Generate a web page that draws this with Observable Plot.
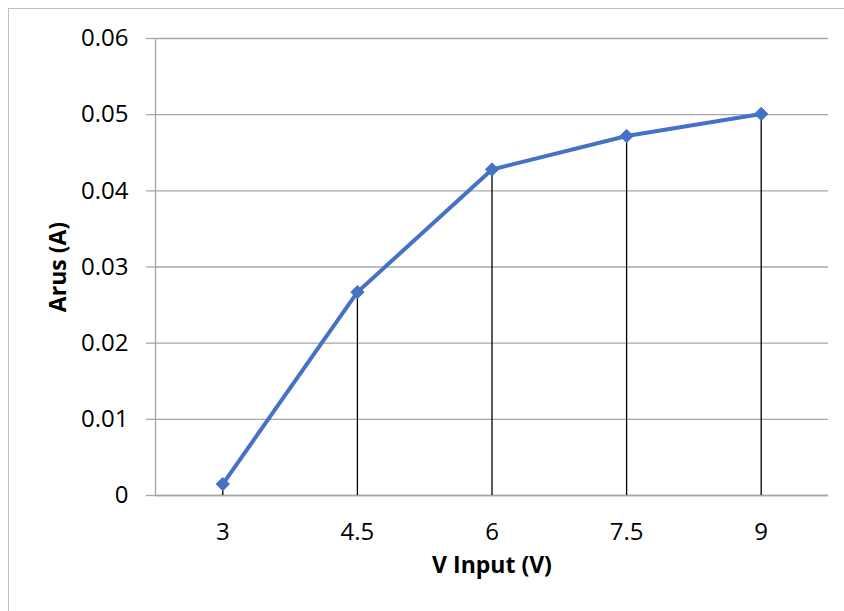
<!DOCTYPE html>
<html>
<head>
<meta charset="utf-8">
<script src="https://cdn.jsdelivr.net/npm/d3@7"></script>
<script src="https://cdn.jsdelivr.net/npm/@observablehq/plot@0.6"></script>
<style>
  html, body { margin: 0; padding: 0; background: #fff; }
  #wrap { position: relative; width: 844px; height: 611px; overflow: hidden; }
  #border { position: absolute; left: 8px; top: 8px; width: 900px; height: 700px; border: 1px solid #bfbfbf; box-sizing: border-box; }
  #chart { position: absolute; left: 0; top: 0; }
</style>
</head>
<body>
<div id="wrap"><div id="border"></div><div id="chart"></div></div>
<script>
const vInput = [3, 4.5, 6, 7.5, 9];
const arus = [0.0015, 0.0267, 0.0428, 0.0472, 0.0501];
const yTicks = [0, 0.01, 0.02, 0.03, 0.04, 0.05, 0.06];
const xTitle = "V Input (V)";
const yTitle = "Arus (A)";

const data = vInput.map((v, i) => ({v, a: arus[i]}));
const step = vInput[1] - vInput[0];
const xDomain = [vInput[0] - step / 2, vInput[vInput.length - 1] + step / 2];

const font = "'Open Sans', sans-serif";
const grid = "#a6a6a6";
const fmtY = d => d === 0 ? "0" : String(+d.toFixed(2));
const fmtX = d => String(d);

const chart = Plot.plot({
  width: 844,
  height: 611,
  marginLeft: 155,
  marginRight: 16,
  marginTop: 38,
  marginBottom: 116,
  style: {fontFamily: font, fontSize: "24px", color: "#000", background: "transparent"},
  x: {domain: xDomain},
  y: {domain: [0, 0.06]},
  marks: [
    Plot.gridY(yTicks, {stroke: grid, strokeOpacity: 1, strokeWidth: 1.3}),
    Plot.ruleX([xDomain[0]], {stroke: grid, strokeWidth: 1.3}),
    Plot.ruleY([0], {stroke: grid, strokeWidth: 1.3}),
    Plot.axisY(yTicks, {tickSize: 9, tickPadding: 18, tickFormat: fmtY, stroke: grid, strokeWidth: 1.3, label: null, fontSize: 24, fill: "#000"}),
    Plot.axisX(vInput, {tickSize: 0, tickPadding: 27, tickFormat: fmtX, label: null, fontSize: 24, fill: "#000"}),
    Plot.ruleX(data, {x: "v", y1: 0, y2: "a", stroke: "#000", strokeWidth: 1.3}),
    Plot.line(data, {x: "v", y: "a", stroke: "#4472C4", strokeWidth: 4, strokeLinejoin: "round", strokeLinecap: "round"}),
    Plot.dot(data, {x: "v", y: "a", symbol: "diamond2", r: 6, fill: "#4472C4", stroke: "#4472C4", strokeWidth: 1}),
    Plot.text([yTitle], {frameAnchor: "left", textAnchor: "middle", rotate: -90, dx: -97, fontWeight: "bold", fontSize: 23, fill: "#000"}),
    Plot.text([xTitle], {frameAnchor: "bottom", textAnchor: "middle", dy: 77, fontWeight: "bold", fontSize: 23, fill: "#000"})
  ]
});
document.getElementById("chart").appendChild(chart);
</script>
</body>
</html>
